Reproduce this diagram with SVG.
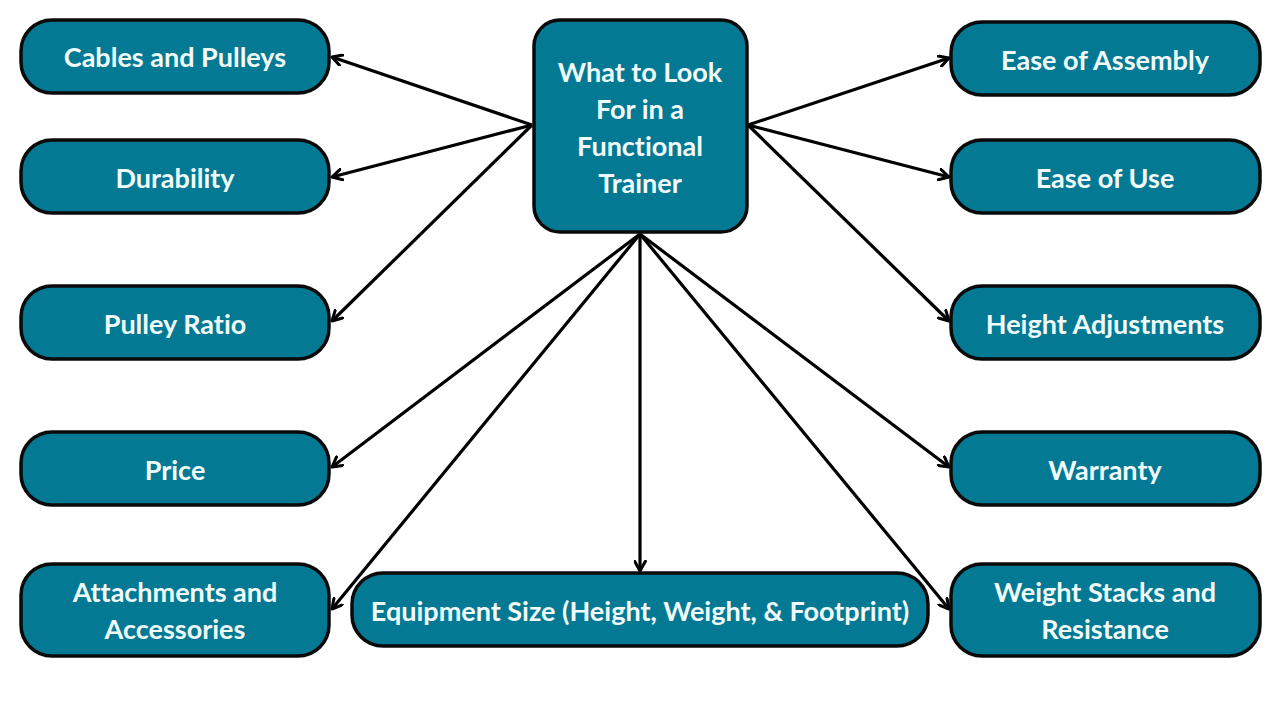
<svg xmlns="http://www.w3.org/2000/svg" width="1280" height="720" viewBox="0 0 1280 720">
<defs>
<marker id="ah" viewBox="0 0 12 12" refX="10" refY="6" markerWidth="13" markerHeight="13" markerUnits="userSpaceOnUse" orient="auto">
<path d="M1,1 L10,6 L1,11" fill="none" stroke="#000" stroke-width="2.8" stroke-linecap="round" stroke-linejoin="round"/>
</marker>
</defs>
<style>
.box{fill:#037993;stroke:#0a0a0a;stroke-width:3.5}
.t{font-family:Lato,"Open Sans",sans-serif;font-weight:700;font-size:27px;fill:#f2fbfb;text-anchor:middle;dominant-baseline:central;font-variant-ligatures:none}
.c{stroke:#000;stroke-width:3.2;fill:none;marker-end:url(#ah)}
</style>
<rect width="1280" height="720" fill="#fff"/>
<g id="connectors">
<line class="c" x1="532" y1="125" x2="332" y2="57"/>
<line class="c" x1="532" y1="125" x2="332" y2="177"/>
<line class="c" x1="532" y1="125" x2="332" y2="321"/>
<line class="c" x1="640" y1="234" x2="332" y2="467"/>
<line class="c" x1="640" y1="234" x2="332" y2="609"/>
<line class="c" x1="640" y1="234" x2="640" y2="571"/>
<line class="c" x1="748" y1="125" x2="949" y2="58"/>
<line class="c" x1="748" y1="125" x2="949" y2="177"/>
<line class="c" x1="748" y1="125" x2="949" y2="321"/>
<line class="c" x1="640" y1="234" x2="949" y2="467"/>
<line class="c" x1="640" y1="234" x2="949" y2="609"/>
</g>
<g id="center"><rect class="box" x="534" y="20" width="213" height="212" rx="26"/>
<text class="t" x="640" y="71">What to Look</text><text class="t" x="640" y="108">For in a</text><text class="t" x="640" y="145">Functional</text><text class="t" x="640" y="182">Trainer</text></g>
<g id="cables"><rect class="box" x="21" y="20" width="308" height="73" rx="31"/><text class="t" x="175" y="56">Cables and Pulleys</text></g>
<g id="durability"><rect class="box" x="21" y="140" width="308" height="73" rx="31"/><text class="t" x="175" y="177">Durability</text></g>
<g id="pulley"><rect class="box" x="21" y="286" width="308" height="73" rx="31"/><text class="t" x="175" y="323">Pulley Ratio</text></g>
<g id="price"><rect class="box" x="21" y="432" width="308" height="73" rx="31"/><text class="t" x="175" y="469">Price</text></g>
<g id="attachments"><rect class="box" x="21" y="564" width="308" height="92" rx="31"/><text class="t" x="175" y="591">Attachments and</text><text class="t" x="175" y="628">Accessories</text></g>
<g id="equipment"><rect class="box" x="352" y="573" width="576" height="73" rx="31"/><text class="t" x="640" y="610">Equipment Size (Height, Weight, &amp; Footprint)</text></g>
<g id="assembly"><rect class="box" x="951" y="22" width="309" height="73" rx="31"/><text class="t" x="1105" y="59">Ease of Assembly</text></g>
<g id="use"><rect class="box" x="951" y="140" width="309" height="73" rx="31"/><text class="t" x="1105" y="177">Ease of Use</text></g>
<g id="height"><rect class="box" x="951" y="286" width="309" height="73" rx="31"/><text class="t" x="1105" y="323">Height Adjustments</text></g>
<g id="warranty"><rect class="box" x="951" y="432" width="309" height="73" rx="31"/><text class="t" x="1105" y="469">Warranty</text></g>
<g id="weight"><rect class="box" x="951" y="564" width="309" height="92" rx="31"/><text class="t" x="1105" y="591">Weight Stacks and</text><text class="t" x="1105" y="628">Resistance</text></g>
</svg>
